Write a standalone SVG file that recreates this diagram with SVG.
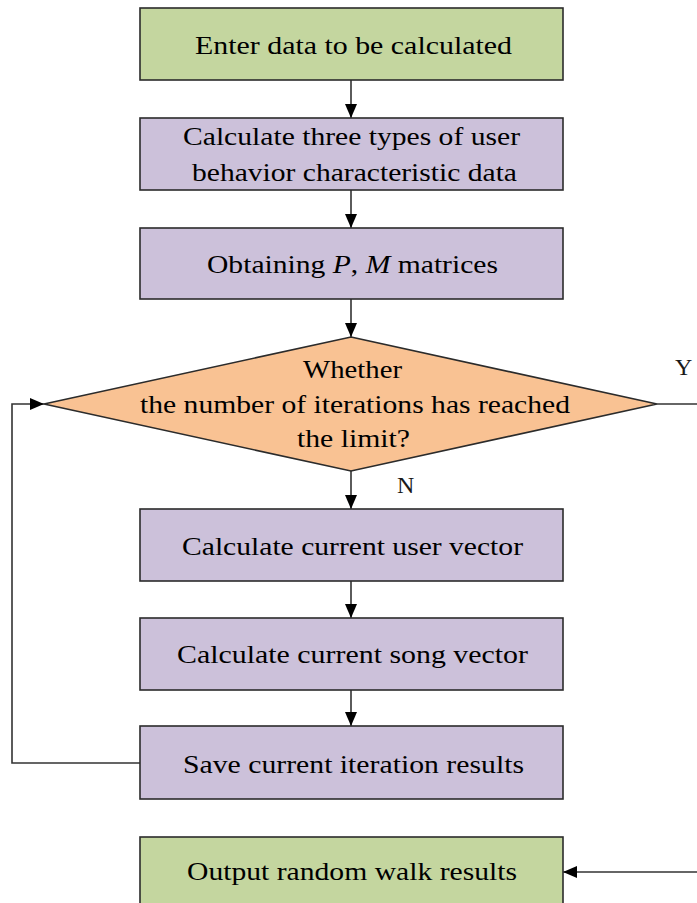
<svg xmlns="http://www.w3.org/2000/svg" width="697" height="903" viewBox="0 0 697 903">
  <style>
    .box { stroke: #2b2b2b; stroke-width: 1.6; }
    .green { fill: #c4d69f; }
    .purple { fill: #ccc1da; }
    .orange { fill: #f9c293; }
    .lbl { font-family: "Liberation Serif", "Times New Roman", serif; font-size: 26px; fill: #000000; }
    .yn { font-family: "Liberation Serif", "Times New Roman", serif; font-size: 24px; fill: #1a1a1a; }
    .conn { stroke: #333333; stroke-width: 1.6; fill: none; }
  </style>
  <defs>
    <marker id="arrow" viewBox="0 0 14 12" refX="14" refY="6" markerWidth="14" markerHeight="12" markerUnits="userSpaceOnUse" orient="auto">
      <path d="M0,0 L14,6 L0,12 Z" fill="#000000"/>
    </marker>
  </defs>
  <rect width="697" height="903" fill="#ffffff"/>

  <g id="connectors">
    <line class="conn" x1="351" y1="80" x2="351" y2="118" marker-end="url(#arrow)" />
    <line class="conn" x1="351" y1="190" x2="351" y2="228" marker-end="url(#arrow)" />
    <line class="conn" x1="351" y1="299" x2="351" y2="337" marker-end="url(#arrow)" />
    <line class="conn" x1="351" y1="471" x2="351" y2="509" marker-end="url(#arrow)" />
    <line class="conn" x1="351" y1="581" x2="351" y2="618" marker-end="url(#arrow)" />
    <line class="conn" x1="351" y1="690" x2="351" y2="726" marker-end="url(#arrow)" />
    <polyline class="conn" points="140,763 12,763 12,404 44,404" marker-end="url(#arrow)" />
    <line class="conn" x1="657" y1="404" x2="697" y2="404" />
    <line class="conn" x1="697" y1="872" x2="563" y2="872" marker-end="url(#arrow)" />
    <text class="yn" x="675" y="375">Y</text>
    <text class="yn" x="397" y="493">N</text>
  </g>

  <g id="enter-data">
    <rect class="box green" x="140" y="8" width="423" height="72"/>
    <text class="lbl" x="195" y="54" textLength="317" lengthAdjust="spacingAndGlyphs">Enter data to be calculated</text>
  </g>

  <g id="behavior-data">
    <rect class="box purple" x="140" y="118" width="423" height="72"/>
    <text class="lbl" x="183" y="145" textLength="337" lengthAdjust="spacingAndGlyphs">Calculate three types of user</text>
    <text class="lbl" x="192" y="181" textLength="325" lengthAdjust="spacingAndGlyphs">behavior characteristic data</text>
  </g>

  <g id="matrices">
    <rect class="box purple" x="140" y="228" width="423" height="71"/>
    <text class="lbl" x="207" y="273" textLength="291" lengthAdjust="spacingAndGlyphs">Obtaining <tspan font-style="italic">P</tspan>, <tspan font-style="italic">M</tspan> matrices</text>
  </g>

  <g id="iteration-check">
    <polygon class="box orange" points="351,337 657,404 351,471 44,404"/>
    <text class="lbl" x="303" y="378" textLength="99" lengthAdjust="spacingAndGlyphs">Whether</text>
    <text class="lbl" x="140" y="413" textLength="430" lengthAdjust="spacingAndGlyphs">the number of iterations has reached</text>
    <text class="lbl" x="297" y="447" textLength="113" lengthAdjust="spacingAndGlyphs">the limit?</text>
  </g>

  <g id="user-vector">
    <rect class="box purple" x="140" y="509" width="423" height="72"/>
    <text class="lbl" x="182" y="555" textLength="341" lengthAdjust="spacingAndGlyphs">Calculate current user vector</text>
  </g>

  <g id="song-vector">
    <rect class="box purple" x="140" y="618" width="423" height="72"/>
    <text class="lbl" x="177" y="663" textLength="351" lengthAdjust="spacingAndGlyphs">Calculate current song vector</text>
  </g>

  <g id="save-results">
    <rect class="box purple" x="140" y="726" width="423" height="73"/>
    <text class="lbl" x="183" y="773" textLength="341" lengthAdjust="spacingAndGlyphs">Save current iteration results</text>
  </g>

  <g id="output-results">
    <rect class="box green" x="140" y="837" width="423" height="80"/>
    <text class="lbl" x="187" y="880" textLength="330" lengthAdjust="spacingAndGlyphs">Output random walk results</text>
  </g>
</svg>
